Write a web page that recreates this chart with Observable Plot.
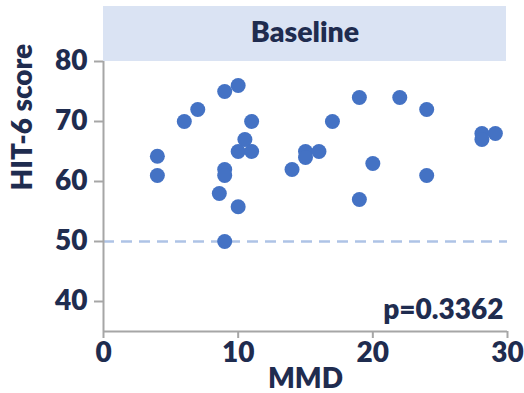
<!DOCTYPE html>
<html><head><meta charset="utf-8">
<script src="https://cdn.jsdelivr.net/npm/d3@7"></script>
<script src="https://cdn.jsdelivr.net/npm/@observablehq/plot@0.6"></script>
<style>body{margin:0;background:#fff}</style>
</head><body><div id="chart"></div>
<script>
// Data
const mmd  = [4, 4, 6, 7, 9, 10, 11, 10.5, 10, 11, 9, 9, 8.6, 10, 9, 14, 15, 15, 16, 17, 19, 19, 20, 22, 24, 24, 28.1, 28.1, 29.1];
const hit6 = [64.2, 61, 70, 72, 75, 76, 70, 67, 65, 65, 62, 61, 58, 55.8, 50, 62, 65, 64, 65, 70, 74, 57, 63, 74, 72, 61, 68, 67, 68];
const xTicks = [0, 10, 20, 30];
const yTicks = [40, 50, 60, 70, 80];
const refLine = [50];
const panelTitle = "Baseline";
const pText = ["p=0.3362"];
const xLabel = ["MMD"];
const yLabel = ["HIT-6 score"];

const data = mmd.map((x, i) => ({x, y: hit6[i]}));
const FONT = "Lato, 'Open Sans', sans-serif";
const NAVY = "#1F2C4F";
const AXIS = "#A6A6A6";
const W = 800;

const header = (index, scales, values, dims) => {
  const g = d3.create("svg:g");
  const x0 = dims.marginLeft, x1 = dims.width - dims.marginRight;
  g.append("rect").attr("x", x0).attr("y", 6).attr("width", x1 - x0 - 1)
    .attr("height", dims.marginTop - 6).attr("fill", "#DAE3F3");
  g.append("text").attr("x", (x0 + x1) / 2).attr("y", 35)
    .attr("text-anchor", "middle").attr("dominant-baseline", "middle")
    .attr("font-family", FONT).attr("font-weight", W).attr("font-size", 28.5)
    .attr("fill", NAVY).text(panelTitle);
  return g.node();
};

const chart = Plot.plot({
  width: 524, height: 393,
  marginTop: 61, marginRight: 17, marginBottom: 62, marginLeft: 103,
  style: {fontFamily: FONT, background: "#fff", overflow: "visible"},
  x: {domain: [0, 30]},
  y: {domain: [35, 80]},
  marks: [
    header,
    Plot.ruleY(refLine, {stroke: "#AEC3E6", strokeWidth: 2.5, strokeDasharray: "11,7"}),
    Plot.ruleX([0], {stroke: AXIS, strokeWidth: 2}),
    Plot.ruleY([35], {stroke: AXIS, strokeWidth: 2}),
    Plot.axisX({ticks: xTicks, tickSize: 7, tickPadding: 4, stroke: AXIS, strokeWidth: 2,
      fill: NAVY, fontSize: 28, fontWeight: W, label: null, tickFormat: d => String(d)}),
    Plot.axisY({ticks: yTicks, tickSize: 9, tickPadding: 7, stroke: AXIS, strokeWidth: 2,
      fill: NAVY, fontSize: 28, fontWeight: W, label: null, tickFormat: d => String(d)}),
    Plot.dot(data, {x: "x", y: "y", r: 7.5, fill: "#4472C4", stroke: "none"}),
    Plot.text(pText, {frameAnchor: "bottom-right", textAnchor: "end", lineAnchor: "bottom",
      dx: -4, dy: -13, fontSize: 28, fontWeight: W, fill: NAVY}),
    Plot.text(xLabel, {frameAnchor: "bottom", lineAnchor: "middle", dy: 48,
      fontSize: 28, fontWeight: W, fill: NAVY}),
    Plot.text(yLabel, {frameAnchor: "left", rotate: -90, lineAnchor: "middle", dx: -80, dy: -6,
      fontSize: 28, fontWeight: W, fill: NAVY})
  ]
});
document.getElementById("chart").appendChild(chart);
</script>
</body></html>
